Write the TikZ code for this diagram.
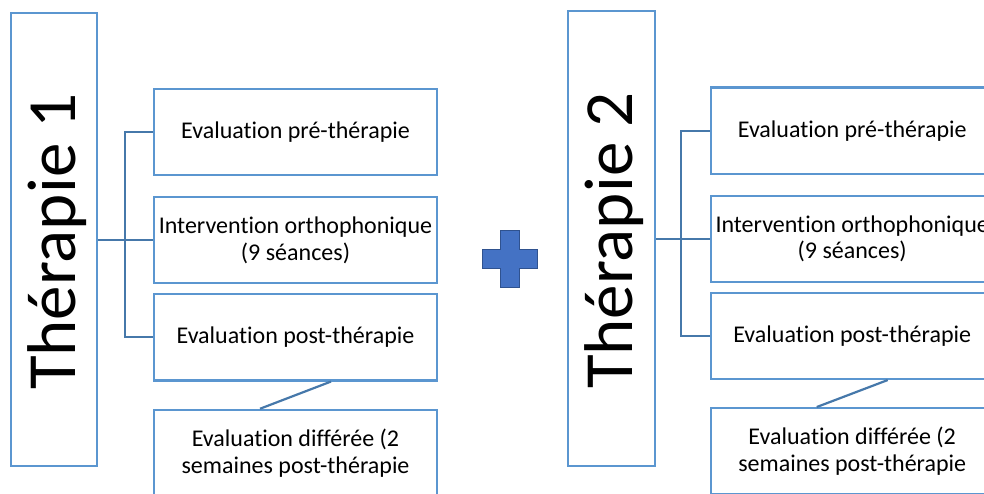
\documentclass[tikz,border=0pt]{standalone}
\usepackage{fontspec}
\setmainfont{Carlito}[Ligatures=NoCommon]
\usetikzlibrary{calc}
\definecolor{boxblue}{RGB}{91,150,208}
\definecolor{connblue}{RGB}{70,120,170}
\definecolor{plusfill}{RGB}{68,114,196}
\definecolor{plusline}{RGB}{47,82,143}
\tikzset{
  bigbox/.style={draw=boxblue, line width=2.2pt, minimum width=86pt, minimum height=453pt, inner sep=0pt},
  childbox/.style={draw=boxblue, line width=2.2pt, minimum width=283pt, minimum height=86.3pt, inner sep=0pt, align=center, font=\fontsize{24}{26.7}\selectfont},
  bigtext/.style={rotate=90, anchor=base, inner sep=0pt, font=\fontsize{69}{80}\selectfont},
  conn/.style={draw=connblue, line width=2.2pt},
}
\begin{document}
\begin{tikzpicture}[x=1pt,y=1pt]
\useasboundingbox (0,0) rectangle (984,493);
\clip (0,0) rectangle (984,493);
% ---- left group
\node[bigbox] (t1) at (54,253.3) {};
\node[bigtext] (t1l) at (75,251.5) {Thérapie 1};
\node[childbox] (a1) at (295.5,361.2) {Evaluation pré-thérapie};
\node[childbox] (a2) at (295.5,253) {Intervention orthophonique\\(9 séances)};
\node[childbox] (a3) at (295.5,155.7) {Evaluation post-thérapie};
\node[childbox] (a4) at (295.5,40) {Evaluation différée (2\\semaines post-thérapie};
\draw[conn] (t1.east |- a2.west) -- (a2.west);
\draw[conn] (a1.west) -- ++(-28.3,0) |- (a3.west);
\draw[conn] ($(a3.south)+(35.5,0)$) -- ($(a4.north)+(-35.5,0)$);
% ---- plus sign
\draw[plusline, fill=plusfill, line width=1.5pt]
  (500.5,262.5) -- (519.5,262.5) -- (519.5,243.5) -- (537.5,243.5) -- (537.5,224.5)
  -- (519.5,224.5) -- (519.5,205.5) -- (500.5,205.5) -- (500.5,224.5) -- (482.5,224.5)
  -- (482.5,243.5) -- (500.5,243.5) -- cycle;
% ---- right group
\node[bigbox, minimum width=87.3pt, minimum height=454.4pt] (t2) at (611.4,254.5) {};
\node[bigtext] (t2l) at (632,252.5) {Thérapie 2};
\node[childbox] (b1) at (852.2,362.3) {Evaluation pré-thérapie};
\node[childbox] (b2) at (852.2,254.2) {Intervention orthophonique\\(9 séances)};
\node[childbox] (b3) at (852.2,157.2) {Evaluation post-thérapie};
\node[childbox] (b4) at (852.2,41.7) {Evaluation différée (2\\semaines post-thérapie};
\draw[conn] (t2.east |- b2.west) -- (b2.west);
\draw[conn] (b1.west) -- ++(-28.4,0) |- (b3.west);
\draw[conn] ($(b3.south)+(35.5,0)$) -- ($(b4.north)+(-35.5,0)$);
\end{tikzpicture}
\end{document}
